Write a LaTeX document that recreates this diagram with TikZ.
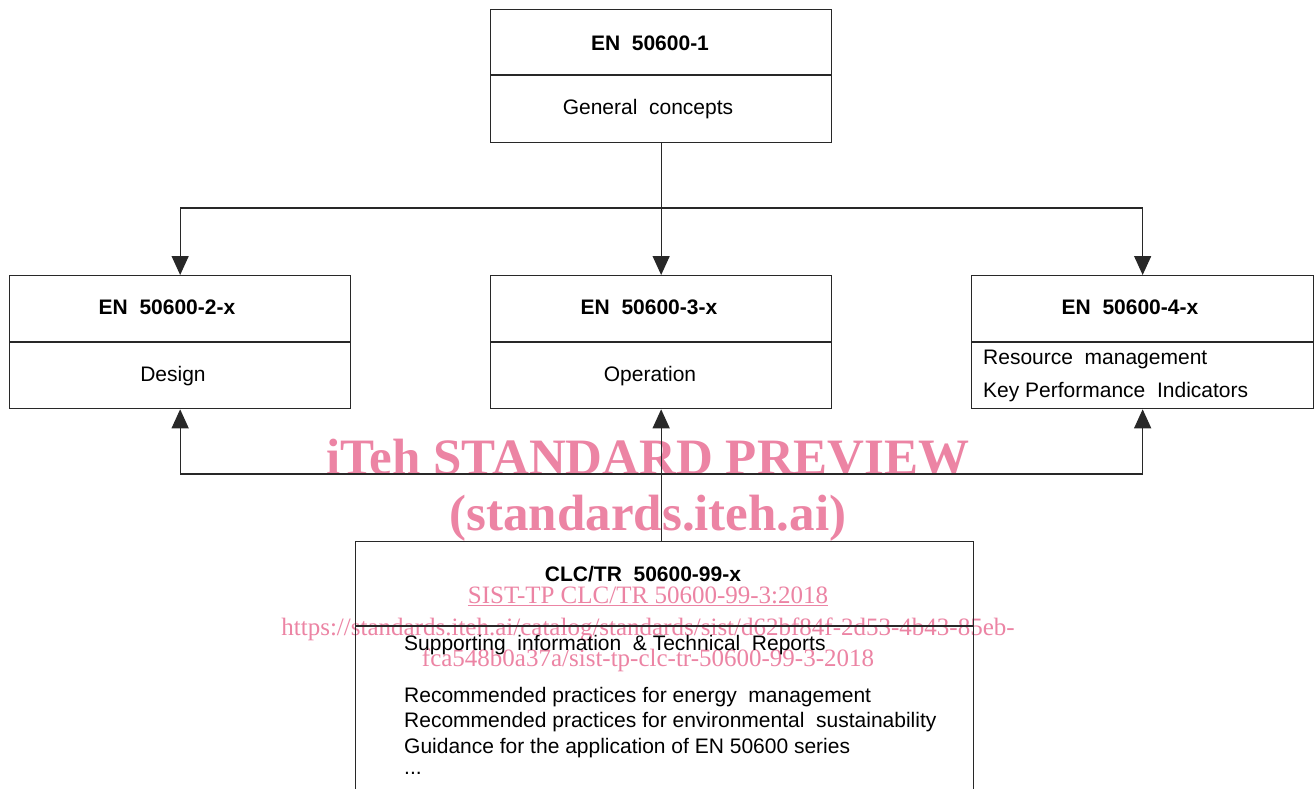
\documentclass[tikz,border=0pt]{standalone}
\usepackage{fontspec}
\setmainfont{Liberation Sans}
\newfontfamily\wmfont{Liberation Serif}
\usetikzlibrary{arrows.meta}
\definecolor{wm}{RGB}{236,132,164}
\definecolor{ink}{RGB}{40,40,40}
\begin{document}
\begin{tikzpicture}[x=1pt,y=-1pt,
  box/.style={draw=ink,line width=1.3pt,inner sep=0pt,anchor=north west},
  title/.style={font=\fontsize{21}{24}\selectfont\bfseries},
  body/.style={font=\fontsize{21}{24}\selectfont},
  ln/.style={draw=ink,line width=1.3pt},
  arr/.style={ln,-{Triangle[width=17pt,length=19pt]}},
  wmbig/.style={text=wm,font=\fontsize{51}{56}\selectfont\wmfont\bfseries},
  wmsmall/.style={text=wm,font=\fontsize{25}{28}\selectfont\wmfont}
]
\useasboundingbox (0,0) rectangle (1315,789);
\fill[white] (0,0) rectangle (1315,789);

% watermark
\node[wmbig] (w1) at (648,457) {iTeh STANDARD PREVIEW};
\node[wmbig] (w2) at (648,518) {(standards.iteh.ai)};
\node[wmsmall] (w3) at (648,596) {\underline{SIST-TP CLC/TR 50600-99-3:2018}};
\node[wmsmall] (w4) at (648,629) {https://standards.iteh.ai/catalog/standards/sist/d62bf84f-2d53-4b43-85eb-};
\node[wmsmall] (w5) at (648,660) {fca548b0a37a/sist-tp-clc-tr-50600-99-3-2018};

% boxes
\node[box,minimum width=341pt,minimum height=133pt] (n1) at (490,9) {};
\node[box,minimum width=341pt,minimum height=133pt] (n2) at (9,275) {};
\node[box,minimum width=341pt,minimum height=133pt] (n3) at (490,275) {};
\node[box,minimum width=342pt,minimum height=133pt] (n4) at (971,275) {};
\node[box,minimum width=618pt,minimum height=270pt] (n5) at (355,541) {};

% dividers
\draw[ln] (n1.west |- 0,75) -- (n1.east |- 0,75);
\draw[ln,line width=2.6pt] (n2.west |- 0,342) -- (n2.east |- 0,342);
\draw[ln,line width=2.6pt] (n3.west |- 0,342) -- (n3.east |- 0,342);
\draw[ln,line width=2.6pt] (n4.west |- 0,342) -- (n4.east |- 0,342);
\draw[ln] (n5.west |- 0,626) -- (n5.east |- 0,626);

% texts
\node[title] (t1) at (650,43) {EN\ \ 50600-1};
\node[body] (b1) at (648,109) {General\ \ concepts};
\node[title] (t2) at (167,307) {EN\ \ 50600-2-x};
\node[body] (b2) at (173,376) {Design};
\node[title] (t3) at (649,307) {EN\ \ 50600-3-x};
\node[body] (b3) at (650,376) {Operation};
\node[title] (t4) at (1130,307) {EN\ \ 50600-4-x};
\node[body,anchor=west,inner sep=0pt] (b4a) at (983,359) {Resource\ \ management};
\node[body,anchor=west,inner sep=0pt] (b4b) at (983,392) {Key Performance\ \ Indicators};
\node[title] (t5) at (643,574) {CLC/TR\ \ 50600-99-x};
\node[body,anchor=west,inner sep=0pt] (b5a) at (404,645) {Supporting\ \ information\ \ \&\ Technical\ \ Reports};
\node[body,anchor=west,inner sep=0pt] (b5b) at (404,697) {Recommended practices for energy\ \ management};
\node[body,anchor=west,inner sep=0pt] (b5c) at (404,722) {Recommended practices for environmental\ \ sustainability};
\node[body,anchor=west,inner sep=0pt] (b5d) at (404,748) {Guidance for the application of EN 50600 series};
\node[body,anchor=west,inner sep=0pt] (b5e) at (404,773) {...};

% connectors
\coordinate (j1) at (n1.south |- 0,208);
\coordinate (j2) at (n3.south |- 0,474);
\draw[ln] (n1.south) -- (j1);
\draw[ln] (n2.north |- j1) -- (n4.north |- j1);
\draw[arr] (j1) -- (n3.north);
\draw[arr] (n2.north |- j1) -- (n2.north);
\draw[arr] (n4.north |- j1) -- (n4.north);
\draw[arr] (n3.south |- n5.north) -- (n3.south);
\draw[ln] (n2.south |- j2) -- (n4.south |- j2);
\draw[arr] (n2.south |- j2) -- (n2.south);
\draw[arr] (n4.south |- j2) -- (n4.south);
\end{tikzpicture}
\end{document}
